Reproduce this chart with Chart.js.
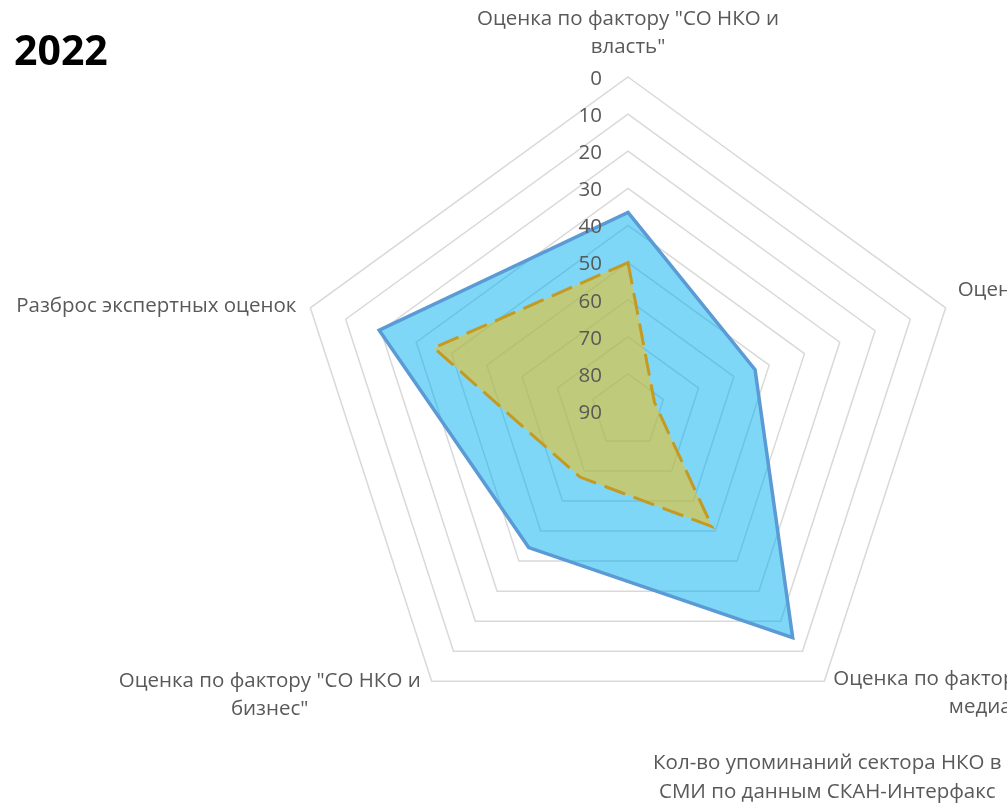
<!DOCTYPE html>
<html><head><meta charset="utf-8">
<script src="https://cdn.jsdelivr.net/npm/chart.js@4"></script>
<style>html,body{margin:0;padding:0;background:#fff;overflow:hidden}canvas{display:block}</style>
</head><body>
<canvas id="c" width="1007" height="808"></canvas>
<script>
const chartTitle = '2022';
const categories = [
  ['Оценка по фактору "СО НКО и', 'власть"'],
  ['Оценка по фактору "СО НКО и', 'общество"'],
  ['Оценка по фактору "СО НКО и', 'медиа"'],
  ['Оценка по фактору "СО НКО и', 'бизнес"'],
  ['Разброс экспертных оценок']
];
const extraNote = ['Кол-во упоминаний сектора НКО в', 'СМИ по данным СКАН-Интерфакс'];
const seriesBlue = [36.5, 54, 14.5, 44.5, 19.5];
const seriesGold = [50, 82.5, 51.5, 68, 35];
const tickMin = 0, tickMax = 90, tickStep = 10;

const FONT = '"Open Sans", "DejaVu Sans", sans-serif';
const GRAY = '#595959';

const overlay = {
  id: 'overlay',
  afterDatasetsDraw(chart) {
    const s = chart.scales.r;
    const ctx = chart.ctx;
    ctx.save();
    ctx.fillStyle = GRAY;
    ctx.font = '20.5px ' + FONT;
    ctx.textBaseline = 'middle';
    // tick labels
    ctx.textAlign = 'right';
    s.ticks.forEach(t => {
      const d = s.getDistanceFromCenterForValue(t.value);
      ctx.fillText(String(t.value), s.xCenter - 26, s.yCenter - d + 2);
    });
    // point labels
    const LH = 28;
    ctx.textAlign = 'center';
    categories.forEach((lines, i) => {
      const p = s.getPointPosition(i, s.drawingArea);
      const w = Math.max(...lines.map(l => ctx.measureText(l).width));
      let cx, y0;
      if (i === 0) { cx = p.x; y0 = p.y - 30 - LH * (lines.length - 1); }
      else if (i === 1) { cx = p.x + 12 + w / 2; y0 = p.y - 18; }
      else if (i === 2) { cx = p.x + 9 + w / 2; y0 = p.y - 2; }
      else if (i === 3) { cx = p.x - 11 - w / 2; y0 = p.y; }
      else { cx = p.x - 14 - w / 2; y0 = p.y - 2; }
      lines.forEach((l, k) => ctx.fillText(l, cx, y0 + k * LH));
    });
    // extra note below lower-right axis
    const p2 = s.getPointPosition(2, s.drawingArea);
    extraNote.forEach((l, k) => ctx.fillText(l, p2.x + 3, p2.y + 82 + k * 29));
    // title
    ctx.fillStyle = '#000';
    ctx.font = 'bold 41px ' + FONT;
    ctx.textAlign = 'left';
    ctx.fillText(chartTitle, 14, 53);
    ctx.restore();
  }
};

new Chart(document.getElementById('c'), {
  type: 'radar',
  data: {
    labels: categories,
    datasets: [
      {
        label: 'A',
        data: seriesBlue,
        order: 2,
        borderColor: '#5B9BD5',
        backgroundColor: 'rgba(0,176,240,0.5)',
        borderWidth: 3.5,
        pointRadius: 0,
        fill: 'start',
        tension: 0
      },
      {
        label: 'B',
        data: seriesGold,
        order: 1,
        borderColor: '#C49A22',
        backgroundColor: 'rgba(255,192,0,0.5)',
        borderWidth: 3,
        borderDash: [22, 9],
        pointRadius: 0,
        fill: 'start',
        tension: 0
      }
    ]
  },
  options: {
    responsive: false,
    animation: false,
    layout: { padding: { left: 294, right: 45, top: 77, bottom: 63 } },
    plugins: { legend: { display: false }, tooltip: { enabled: false }, title: { display: false } },
    scales: {
      r: {
        min: tickMin,
        max: tickMax,
        reverse: true,
        ticks: { stepSize: tickStep, display: false },
        grid: { color: '#D9D9D9', lineWidth: 1.5 },
        angleLines: { display: false },
        pointLabels: { display: false }
      }
    }
  },
  plugins: [overlay]
});
</script>
</body></html>
